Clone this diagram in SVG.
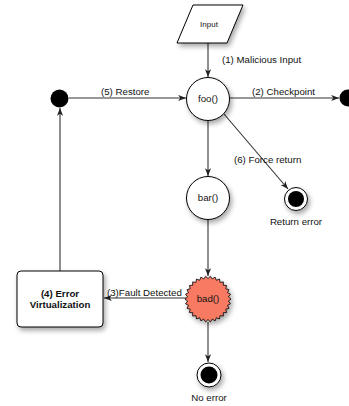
<svg xmlns="http://www.w3.org/2000/svg" width="349" height="406" viewBox="0 0 349 406">
<style>
text{font-family:"Liberation Sans",Arial,sans-serif;font-size:9.7px;fill:#111}
.lbl{text-anchor:start}
.c{text-anchor:middle}
.b{font-weight:bold}
.edge{stroke:#333;stroke-width:1.1;fill:none;marker-end:url(#arr)}
.node{fill:#fff;stroke:#000;stroke-width:1}
</style>
<defs>
<marker id="arr" viewBox="0 0 10 8" refX="9" refY="4" markerWidth="9" markerHeight="7" markerUnits="userSpaceOnUse" orient="auto">
<path d="M0,0.5 L9,4 L0,7.5 L2.5,4 Z" fill="#222"/>
</marker>
<filter id="sh" x="-40%" y="-40%" width="180%" height="180%">
<feDropShadow dx="2" dy="3" stdDeviation="2.5" flood-color="#000" flood-opacity="0.35"/>
</filter>
</defs>
<g id="connectors">
<line class="edge" x1="208" y1="43" x2="208" y2="77"/>
<text class="lbl" x="222" y="63">(1) Malicious Input</text>
<line class="edge" x1="230" y1="98" x2="339" y2="98"/>
<text class="lbl" x="252" y="95">(2) Checkpoint</text>
<line class="edge" x1="69" y1="98" x2="186" y2="98"/>
<text class="lbl" x="101" y="95">(5) Restore</text>
<line class="edge" x1="208" y1="120" x2="208" y2="176"/>
<line class="edge" x1="224" y1="114" x2="288" y2="189"/>
<text class="lbl" x="234" y="163">(6) Force return</text>
<line class="edge" x1="208" y1="220" x2="208" y2="276"/>
<line class="edge" x1="186" y1="298" x2="104" y2="298"/>
<text class="lbl" x="107" y="296">(3)Fault Detected</text>
<line class="edge" x1="208" y1="322" x2="208" y2="362"/>
<line class="edge" x1="60" y1="271" x2="60" y2="108"/>
</g>
<g id="input">
<polygon class="node" filter="url(#sh)" points="193,5 243,5 227,43 177,43"/>
<text class="c" x="209" y="27" style="font-size:8px">Input</text>
</g>
<g id="foo">
<circle class="node" filter="url(#sh)" cx="208" cy="99" r="21.5"/>
<text class="c" x="208" y="102">foo()</text>
</g>
<g id="checkpoint">
<circle cx="348" cy="98" r="8.5" fill="#000"/>
</g>
<g id="restore">
<circle cx="59.5" cy="98.5" r="9" fill="#000"/>
</g>
<g id="bar">
<circle class="node" filter="url(#sh)" cx="208" cy="198" r="21.5"/>
<text class="c" x="208" y="201">bar()</text>
</g>
<g id="return-error">
<circle class="node" filter="url(#sh)" cx="296" cy="199" r="11.5" stroke-width="1"/>
<circle cx="296" cy="199" r="8" fill="#000"/>
<text class="c" x="296" y="225">Return error</text>
</g>
<g id="bad">
<polygon transform="translate(208,299)" filter="url(#sh)" fill="#f87a63" stroke="#000" stroke-width="0.8" points="23,0 20.39,2.14 22.5,4.78 19.5,6.33 21.01,9.35 17.75,10.25 18.61,13.52 15.23,13.72 15.39,17.09 12.05,16.58 11.5,19.92 8.34,18.73 7.11,21.87 4.26,20.05 2.4,22.87 0,20.5 -2.4,22.87 -4.26,20.05 -7.11,21.87 -8.34,18.73 -11.5,19.92 -12.05,16.58 -15.39,17.09 -15.23,13.72 -18.61,13.52 -17.75,10.25 -21.01,9.35 -19.5,6.33 -22.5,4.78 -20.39,2.14 -23,0 -20.39,-2.14 -22.5,-4.78 -19.5,-6.33 -21.01,-9.35 -17.75,-10.25 -18.61,-13.52 -15.23,-13.72 -15.39,-17.09 -12.05,-16.58 -11.5,-19.92 -8.34,-18.73 -7.11,-21.87 -4.26,-20.05 -2.4,-22.87 0,-20.5 2.4,-22.87 4.26,-20.05 7.11,-21.87 8.34,-18.73 11.5,-19.92 12.05,-16.58 15.39,-17.09 15.23,-13.72 18.61,-13.52 17.75,-10.25 21.01,-9.35 19.5,-6.33 22.5,-4.78 20.39,-2.14"/>
<text class="c" x="208" y="302">bad()</text>
</g>
<g id="no-error">
<circle class="node" filter="url(#sh)" cx="209" cy="375" r="12"/>
<circle cx="209" cy="375" r="8.5" fill="#000"/>
<text class="c" x="209" y="401">No error</text>
</g>
<g id="error-virtualization">
<rect class="node" filter="url(#sh)" x="17" y="271" width="86" height="56" rx="4"/>
<text class="c b" x="60" y="297">(4) Error</text>
<text class="c b" x="60" y="308">Virtualization</text>
</g>
</svg>
